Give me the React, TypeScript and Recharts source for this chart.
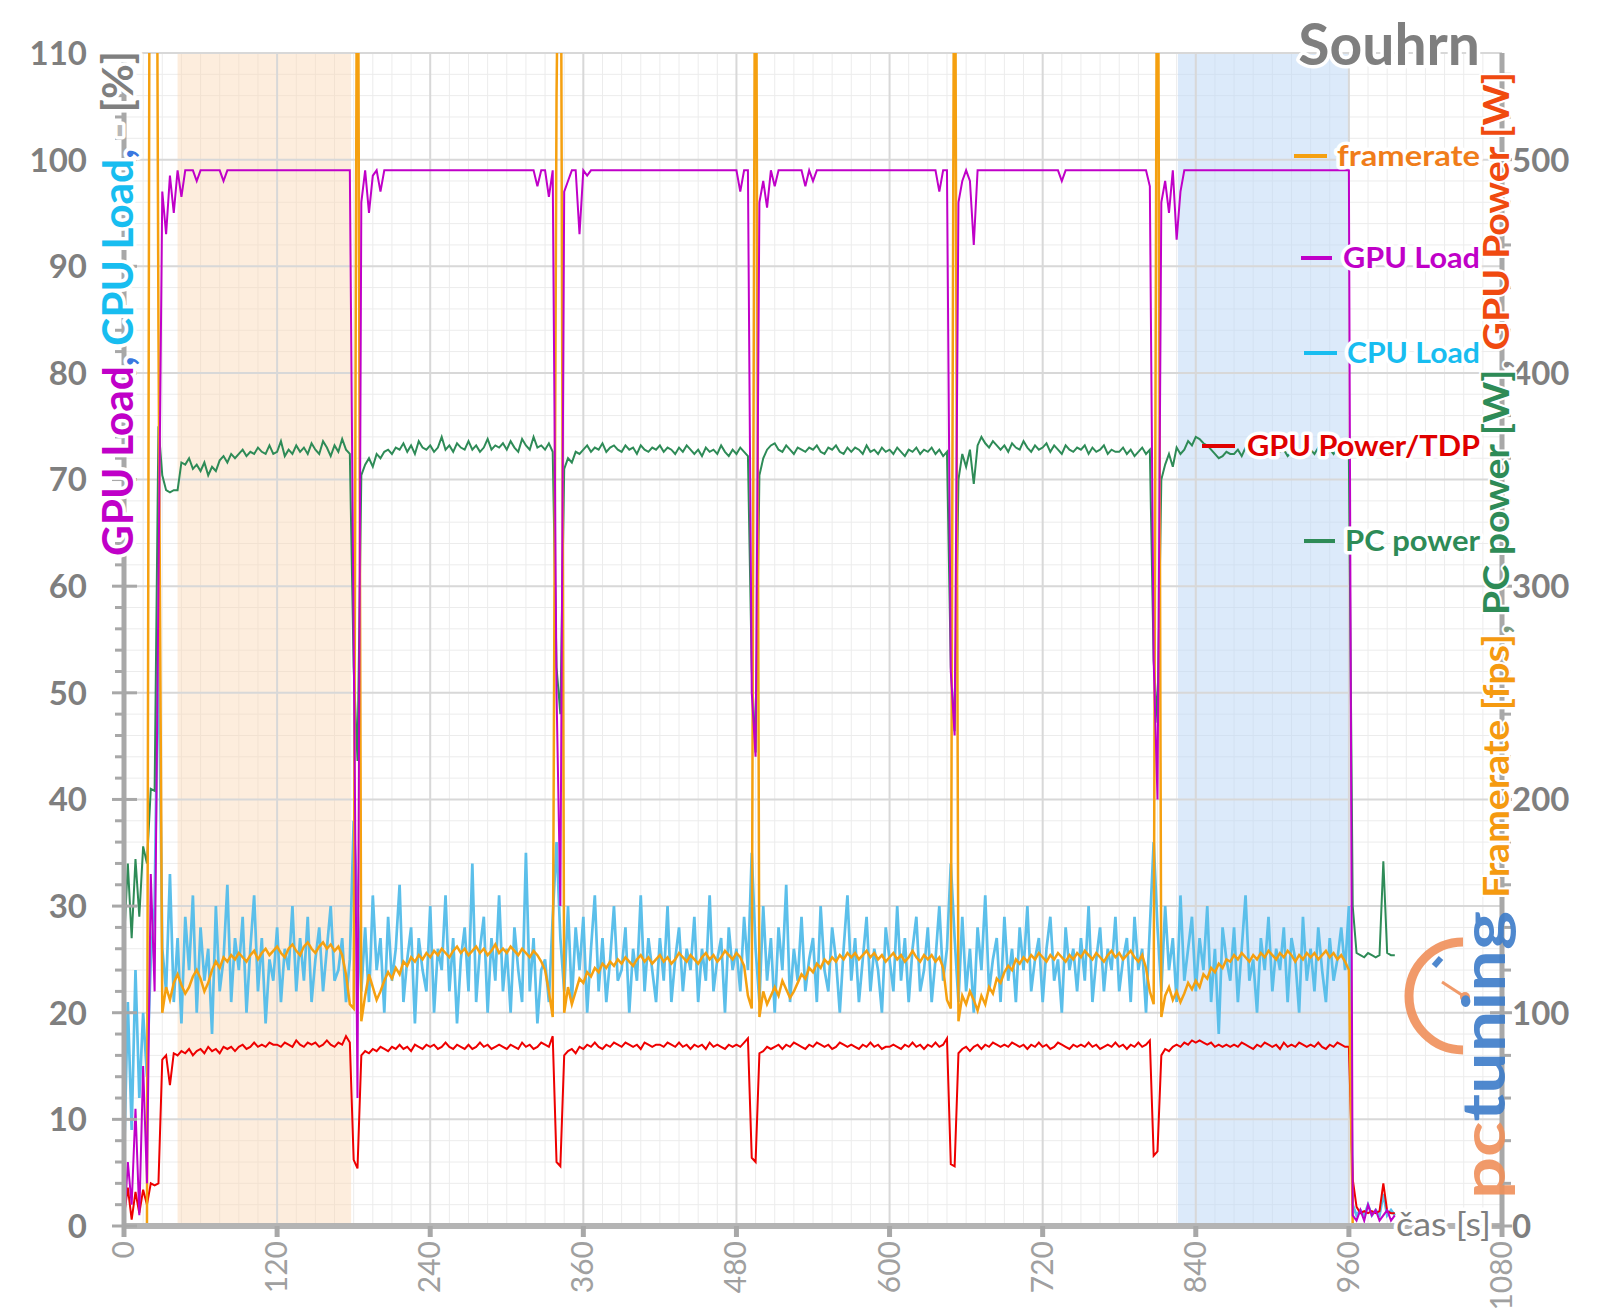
import React from 'react';
import { LineChart, Line, XAxis, YAxis, CartesianGrid, ReferenceArea, ReferenceLine } from 'recharts';

// one sample every 3 seconds, t = 0 … 996 s
const SAMPLE_STEP = 3;

// framerate [fps] – right axis (spikes during loading go off the top)
const FRAMERATE = [
  0, 0, 0, 0, 0, 0, 0, 900, 900, 420,
  100, 112, 106, 114, 118, 113, 109, 112, 117, 120,
  116, 110, 114, 120, 124, 121, 126, 124, 127, 125,
  128, 126, 124, 127, 129, 125, 128, 130, 127, 129,
  131, 128, 126, 130, 132, 129, 127, 131, 133, 130,
  128, 131, 133, 130, 132, 129, 131, 127, 118, 104,
  102, 700, 96, 108, 118, 112, 106, 110, 115, 119,
  116, 121, 118, 124, 122, 126, 124, 127, 125, 128,
  126, 129, 127, 130, 128, 126, 129, 131, 128, 130,
  127, 129, 131, 128, 130, 127, 129, 132, 128, 130,
  128, 131, 129, 127, 130, 128, 126, 129, 127, 124,
  120, 110, 98, 530, 700, 100, 112, 104, 110, 116,
  114, 119, 117, 121, 119, 123, 121, 124, 122, 125,
  123, 126, 124, 122, 125, 127, 124, 126, 123, 125,
  127, 124, 126, 123, 125, 128, 126, 124, 127, 125,
  123, 126, 128, 125, 127, 124, 126, 129, 127, 125,
  128, 126, 122, 108, 102, 700, 98, 110, 104, 108,
  112, 108, 115, 111, 107, 110, 114, 118, 116, 121,
  119, 123, 121, 125, 123, 126, 124, 127, 125, 128,
  126, 128, 125, 127, 129, 126, 128, 125, 127, 124,
  126, 128, 125, 127, 124, 126, 129, 126, 124, 127,
  125, 127, 124, 126, 121, 106, 102, 700, 96, 108,
  104, 110, 106, 101, 108, 104, 112, 109, 116, 114,
  119, 122, 120, 125, 123, 126, 124, 127, 125, 128,
  126, 124, 127, 125, 128, 126, 124, 127, 125, 128,
  126, 129, 127, 125, 128, 126, 124, 127, 129, 126,
  128, 125, 127, 129, 126, 124, 127, 121, 110, 104,
  700, 98, 108, 112, 106, 110, 105, 109, 114, 111,
  115, 112, 118, 116, 121, 119, 123, 121, 125, 124,
  127, 125, 128, 126, 124, 127, 125, 128, 126, 129,
  127, 125, 128, 126, 129, 127, 124, 127, 125, 128,
  126, 128, 125, 127, 129, 126, 128, 125, 127, 124,
  120, 0, 0, 0, 0, 0, 0, 0, 0, 0,
  0, 0, 0,
];

// GPU load [%] – left axis
const GPU_LOAD = [
  0, 6, 2, 11, 1, 15, 4, 33, 22, 60,
  97, 93, 98.5, 95, 99, 96.5, 99, 99, 99, 98,
  99, 99, 99, 99, 99, 99, 98, 99, 99, 99,
  99, 99, 99, 99, 99, 99, 99, 99, 99, 99,
  99, 99, 99, 99, 99, 99, 99, 99, 99, 99,
  99, 99, 99, 99, 99, 99, 99, 99, 99, 99,
  55, 12, 96, 99, 95, 98.5, 99, 97, 99, 99,
  99, 99, 99, 99, 99, 99, 99, 99, 99, 99,
  99, 99, 99, 99, 99, 99, 99, 99, 99, 99,
  99, 99, 99, 99, 99, 99, 99, 99, 99, 99,
  99, 99, 99, 99, 99, 99, 99, 99, 97.5, 99,
  99, 96.5, 99, 50, 30, 97, 98, 99, 99, 93,
  99, 98.5, 99, 99, 99, 99, 99, 99, 99, 99,
  99, 99, 99, 99, 99, 99, 99, 99, 99, 99,
  99, 99, 99, 99, 99, 99, 99, 99, 99, 99,
  99, 99, 99, 99, 99, 99, 99, 99, 99, 99,
  99, 97, 99, 99, 50, 44, 96, 98, 95.5, 99,
  97.5, 99, 99, 99, 99, 99, 99, 99, 97.5, 99,
  98, 99, 99, 99, 99, 99, 99, 99, 99, 99,
  99, 99, 99, 99, 99, 99, 99, 99, 99, 99,
  99, 99, 99, 99, 99, 99, 99, 99, 99, 99,
  99, 99, 99, 97, 99, 99, 52, 46, 96, 98,
  99, 98, 92, 99, 99, 99, 99, 99, 99, 99,
  99, 99, 99, 99, 99, 99, 99, 99, 99, 99,
  99, 99, 99, 99, 99, 98, 99, 99, 99, 99,
  99, 99, 99, 99, 99, 99, 99, 99, 99, 99,
  99, 99, 99, 99, 99, 99, 99, 99, 97.5, 53,
  40, 96, 98, 95, 99, 92.5, 97, 99, 99, 99,
  99, 99, 99, 99, 99, 99, 99, 99, 99, 99,
  99, 99, 99, 99, 99, 99, 99, 99, 99, 99,
  99, 99, 99, 99, 99, 99, 99, 99, 99, 99,
  99, 99, 99, 99, 99, 99, 99, 99, 99, 99,
  99, 1, 0.5, 1.5, 0.5, 2, 1, 1.5, 0.5, 1,
  1.5, 0.5, 1,
];

// CPU load [%] – left axis
const CPU_LOAD = [
  6, 21, 9, 24, 12, 20, 14, 25, 30, 56,
  26, 22, 33, 21, 27, 19, 29, 24, 31, 20,
  28, 23, 26, 18, 30, 22, 25, 32, 21, 27,
  24, 29, 20, 26, 31, 22, 27, 19, 25, 23,
  28, 21, 26, 24, 30, 22, 27, 23, 29, 21,
  25, 28, 22, 26, 30, 23, 24, 27, 21, 25,
  38, 30, 22, 28, 21, 31, 24, 27, 20, 29,
  23, 26, 32, 21, 25, 28, 19, 27, 24, 22,
  30, 20, 26, 24, 31, 22, 27, 19, 25, 28,
  22, 34, 21, 26, 29, 20, 27, 23, 31, 22,
  26, 20, 28, 24, 21, 35, 22, 27, 19, 24,
  25, 21, 29, 36, 27, 22, 30, 21, 28, 24,
  29, 20, 26, 31, 22, 27, 21, 25, 30, 23,
  24, 28, 20, 26, 23, 31, 22, 27, 24, 21,
  27, 23, 30, 21, 25, 28, 22, 26, 24, 29,
  21, 26, 23, 31, 22, 25, 27, 20, 28, 24,
  26, 22, 29, 24, 35, 26, 21, 30, 23, 27,
  20, 28, 24, 32, 21, 26, 23, 29, 22, 25,
  27, 21, 30, 24, 22, 28, 25, 20, 26, 31,
  23, 27, 21, 25, 29, 22, 26, 24, 20, 28,
  25, 22, 30, 23, 27, 21, 26, 29, 22, 24,
  28, 21, 25, 30, 23, 26, 34, 27, 21, 29,
  22, 26, 20, 28, 24, 31, 22, 25, 27, 21,
  29, 23, 26, 21, 28, 24, 30, 22, 25, 27,
  21, 26, 29, 23, 25, 20, 28, 24, 26, 22,
  27, 23, 30, 21, 25, 28, 22, 26, 24, 29,
  22, 25, 27, 21, 29, 24, 26, 20, 28, 36,
  28, 22, 30, 24, 27, 21, 31, 23, 26, 29,
  22, 27, 24, 30, 21, 26, 18, 28, 25, 23,
  28, 21, 26, 31, 23, 25, 20, 27, 24, 29,
  22, 26, 24, 28, 21, 27, 25, 20, 29, 23,
  26, 22, 28, 24, 21, 27, 23, 25, 28, 24,
  30, 2, 1, 1.5, 1, 2, 1, 1.5, 1, 3,
  1, 1.5, 1,
];

// GPU power [W] – right axis
const GPU_POWER = [
  5, 18, 3, 16, 6, 17, 10, 20, 19, 20,
  78, 80, 66, 81, 80, 82, 81, 83, 80, 82,
  83, 81, 84, 82, 83, 81, 84, 83, 84, 82,
  84, 85, 83, 84, 86, 84, 85, 84, 86, 85,
  85, 84, 86, 85, 84, 87, 85, 84, 86, 85,
  86, 84, 85, 87, 85, 84, 86, 85, 89, 86,
  31, 27, 80, 82, 81, 83, 82, 84, 83, 82,
  84, 83, 85, 83, 84, 82, 85, 84, 83, 85,
  84, 85, 83, 84, 86, 84, 83, 85, 84, 83,
  85, 83, 84, 86, 84, 85, 83, 84, 85, 84,
  83, 85, 84, 83, 86, 84, 85, 83, 84, 86,
  85, 84, 89, 30, 28, 80, 82, 83, 81, 84,
  83, 85, 84, 86, 84, 83, 85, 84, 86, 85,
  84, 86, 85, 84, 85, 83, 86, 85, 84, 85,
  85, 84, 86, 85, 84, 86, 84, 85, 83, 85,
  84, 85, 83, 86, 84, 85, 84, 83, 85, 84,
  85, 84, 86, 88, 32, 30, 81, 82, 84, 83,
  84, 85, 83, 85, 84, 86, 85, 84, 83, 85,
  84, 86, 85, 84, 85, 83, 84, 86, 85, 84,
  85, 84, 83, 85, 84, 86, 84, 85, 83, 84,
  84, 85, 84, 83, 85, 84, 86, 84, 85, 83,
  85, 84, 86, 84, 85, 88, 29, 28, 81, 83,
  84, 82, 84, 85, 83, 85, 84, 86, 85, 84,
  85, 84, 86, 85, 84, 85, 83, 85, 84, 86,
  84, 85, 83, 84, 86, 85, 84, 83, 85, 84,
  85, 84, 86, 84, 85, 83, 84, 85, 84, 86,
  84, 85, 83, 85, 84, 86, 84, 85, 87, 33,
  35, 80, 83, 82, 84, 85, 84, 86, 85, 87,
  86, 87, 86, 85, 86, 84, 85, 84, 85, 84,
  85, 84, 86, 85, 84, 83, 85, 84, 86, 85,
  84, 85, 83, 86, 84, 85, 84, 86, 85, 84,
  85, 84, 86, 84, 83, 85, 84, 86, 85, 84,
  84, 22, 9, 6, 7, 6, 7, 6, 7, 20,
  7, 6, 6,
];

// PC power [W] – right axis
const PC_POWER = [
  133, 170, 135, 172, 145, 178, 170, 205, 204, 375,
  352, 345, 344, 345, 345, 358, 357, 360, 355, 357,
  354, 358, 352, 356, 354, 359, 361, 358, 362, 360,
  362, 364, 361, 363, 362, 365, 363, 362, 366, 362,
  363, 368, 361, 364, 362, 366, 363, 365, 362, 367,
  364, 362, 368, 365, 361, 366, 363, 369, 364, 362,
  262, 218, 352, 357, 360, 356, 362, 360, 363, 364,
  362, 365, 364, 367, 363, 366, 362, 368, 365, 364,
  366, 363, 365, 370, 364, 366, 363, 367, 365, 364,
  368, 364, 366, 363, 365, 369, 364, 366, 365, 367,
  364, 368, 365, 363, 369, 366, 364, 370, 365, 366,
  364, 367, 363, 262, 240, 355, 360, 358, 363, 362,
  364, 366, 363, 365, 364, 367, 363, 365, 366, 364,
  363, 366, 364, 365, 362, 366, 364, 363, 365, 364,
  366, 363, 365, 364, 362, 365, 363, 366, 364, 362,
  364, 361, 365, 363, 364, 362, 366, 363, 361, 364,
  362, 365, 363, 361, 261, 222, 352, 360, 364, 366,
  367, 364, 363, 366, 364, 362, 365, 364, 363, 365,
  364, 366, 363, 362, 365, 364, 366, 363, 362, 365,
  363, 365, 364, 362, 366, 363, 364, 362, 365, 363,
  364, 362, 365, 363, 361, 364, 363, 365, 362, 364,
  363, 365, 362, 364, 361, 363, 262, 232, 350, 362,
  356, 364, 348, 366, 370, 367, 365, 368, 366, 364,
  366, 363, 367, 365, 364, 368, 365, 363, 366, 364,
  365, 367, 363, 366, 364, 362, 366, 364, 363, 365,
  364, 366, 362, 365, 363, 364, 366, 362, 364, 363,
  363, 365, 362, 364, 361, 363, 365, 362, 364, 265,
  236, 350, 357, 362, 356, 365, 362, 364, 368, 366,
  370, 369, 367, 366, 364, 362, 360, 361, 363, 362,
  362, 364, 361, 365, 363, 362, 364, 363, 361, 364,
  362, 365, 363, 364, 361, 363, 365, 362, 364, 363,
  364, 362, 365, 363, 361, 364, 362, 365, 363, 364,
  360, 150, 128, 127, 126, 128, 127, 126, 127, 171,
  128, 127, 127,
];

const X_MAJOR = [0, 120, 240, 360, 480, 600, 720, 840, 960, 1080];
const LEFT_MAJOR = [0, 10, 20, 30, 40, 50, 60, 70, 80, 90, 100, 110];
const LOADING_BAND = [42, 178];
const SAVE_BAND = [826, 960];

const rows = FRAMERATE.map((fps, i) => ({
  t: i * SAMPLE_STEP,
  fps,
  gpuLoad: GPU_LOAD[i],
  cpuLoad: CPU_LOAD[i],
  gpuPower: GPU_POWER[i],
  pcPower: PC_POWER[i],
}));

const xTicks: number[] = [];
for (let t = 0; t <= 1080; t += 15) xTicks.push(t);
const leftTicks: number[] = [];
for (let v = 0; v <= 110; v += 2) leftTicks.push(v);
const rightTicks: number[] = [];
for (let v = 0; v <= 540; v += 20) rightTicks.push(v);

const FONT = 'Lato, "Open Sans", sans-serif';
const AXIS_GRAY = '#a8a8a8';
const LABEL_GRAY = '#7f7f7f';

const LeftTick = (props: any) => {
  const { x, y, payload } = props;
  const v = payload.value;
  const major = v % 10 === 0;
  return (
    <g>
      <line x1={major ? x - 12 : x - 9} x2={major ? x + 13 : x} y1={y} y2={y} stroke={AXIS_GRAY} strokeWidth={3} />
      {major && (
        <text x={x - 37} y={y} dy="0.36em" textAnchor="end" fontFamily={FONT} fontWeight={700} fontSize={33} fill={LABEL_GRAY}>
          {v}
        </text>
      )}
    </g>
  );
};

const RightTick = (props: any) => {
  const { x, y, payload } = props;
  const v = payload.value;
  const major = v % 100 === 0;
  return (
    <g>
      <line x1={major ? x - 12 : x} x2={major ? x + 10 : x + 9} y1={y} y2={y} stroke={AXIS_GRAY} strokeWidth={3} />
      {major && (
        <text x={x + 10} y={y} dy="0.36em" textAnchor="start" fontFamily={FONT} fontWeight={700} fontSize={33} fill={LABEL_GRAY}>
          {v}
        </text>
      )}
    </g>
  );
};

const BottomTick = (props: any) => {
  const { x, y, payload } = props;
  const v = payload.value;
  if (v % 120 !== 0) return <g />;
  const tx = x + 10;
  const ty = y + 15;
  return (
    <g>
      <line x1={x} x2={x} y1={y} y2={y + 11} stroke={AXIS_GRAY} strokeWidth={5} />
      <text x={tx} y={ty} transform={`rotate(-90 ${tx} ${ty})`} textAnchor="end" fontFamily={FONT} fontSize={30} fill="#a0a0a0">
        {v}
      </text>
    </g>
  );
};

const LEGEND = [
  { label: 'framerate', color: '#f07d1a', line: '#f5a010', y: 156, dash: [1294, 1327], x0: 1337 },
  { label: 'GPU Load', color: '#c000c8', line: '#c000c8', y: 258, dash: [1301, 1332], x0: 1343 },
  { label: 'CPU Load', color: '#18bdf0', line: '#18bdf0', y: 353, dash: [1304, 1337], x0: 1347 },
  { label: 'GPU Power/TDP', color: '#e00000', line: '#e00000', y: 446, dash: [1202, 1235], x0: 1247 },
  { label: 'PC power', color: '#2e8b57', line: '#2e8b57', y: 541, dash: [1304, 1335], x0: 1345 },
];

const halo = { stroke: '#ffffff', strokeWidth: 7, paintOrder: 'stroke' as const, strokeLinejoin: 'round' as const };
const thinHalo = { stroke: '#ffffff', strokeWidth: 4, paintOrder: 'stroke' as const, strokeLinejoin: 'round' as const };

const Overlay = () => (
  <svg width={1600} height={1313} style={{ position: 'absolute', left: 0, top: 0, pointerEvents: 'none' }} fontFamily={FONT}>
    <text x={1480} y={65} textAnchor="end" fontSize={57} fontWeight={700} fill={LABEL_GRAY} {...halo}>
      Souhrn
    </text>

    {LEGEND.map((l) => (
      <g key={l.label}>
        <line x1={l.dash[0]} x2={l.dash[1]} y1={l.y} y2={l.y} stroke={l.line} strokeWidth={4} />
        <text x={l.x0} y={l.y} dy="0.35em" textLength={1480 - l.x0} lengthAdjust="spacingAndGlyphs" fontSize={29} fontWeight={700} fill={l.color} {...halo}>
          {l.label}
        </text>
      </g>
    ))}

    {/* left axis title */}
    <text x={133} y={556} transform="rotate(-90 133 556)" textLength={505} lengthAdjust="spacingAndGlyphs" fontSize={42} fontWeight={700} {...halo}>
      <tspan fill="#c000c8">GPU Load</tspan>
      <tspan fill="#3a78e0">, </tspan>
      <tspan fill="#18bdf0">CPU Load</tspan>
      <tspan fill="#3a78e0">, </tspan>
      <tspan fill="#b8b8b8">- </tspan>
      <tspan fill={LABEL_GRAY}>[%]</tspan>
    </text>

    {/* right axis title */}
    <text x={1509} y={898} transform="rotate(-90 1509 898)" textLength={826} lengthAdjust="spacingAndGlyphs" fontSize={37} fontWeight={700} {...thinHalo}>
      <tspan fill="#f59a10">Framerate [fps]</tspan>
      <tspan fill="#7a9a80">, </tspan>
      <tspan fill="#2e8b57">PC power [W]</tspan>
      <tspan fill="#8a8a8a">, </tspan>
      <tspan fill="#f04a10">GPU Power [W]</tspan>
    </text>

    {/* pctuning watermark */}
    <g opacity={0.9}>
      <path d="M 1463 942 A 54 54 0 0 0 1463 1050" fill="none" stroke="#f0905a" strokeWidth={9} />
      <line x1={1465} y1={997} x2={1442} y2={982} stroke="#f0905a" strokeWidth={3} />
      <circle cx={1465} cy={997} r={5} fill="#f0905a" />
      <line x1={1434} y1={966} x2={1441} y2={958} stroke="#3d7cc9" strokeWidth={6} />
      <text x={1505} y={1199} transform="rotate(-90 1505 1199)" textLength={288} lengthAdjust="spacingAndGlyphs" fontSize={60} fontWeight={700}>
        <tspan fill="#f0905a">pc</tspan>
        <tspan fill="#3d7cc9">tuning</tspan>
      </text>
    </g>

    <text x={1396} y={1236} textLength={95} lengthAdjust="spacingAndGlyphs" fontSize={33} fill={LABEL_GRAY} {...halo}>
      čas [s]
    </text>
  </svg>
);

export default function App() {
  return (
    <div style={{ position: 'absolute', left: 0, top: 0, width: 1600, height: 1313, background: '#ffffff' }}>
      <LineChart width={1600} height={1313} data={rows} margin={{ top: 53, right: 0, bottom: 0, left: 0 }}>
        <CartesianGrid yAxisId="left" stroke="#ececec" strokeWidth={1} />
        <ReferenceArea yAxisId="left" x1={LOADING_BAND[0]} x2={LOADING_BAND[1]} fill="#fad8b4" fillOpacity={0.45} stroke="none" />
        <ReferenceArea yAxisId="left" x1={SAVE_BAND[0]} x2={SAVE_BAND[1]} fill="#b9d6f6" fillOpacity={0.5} stroke="none" />
        {LEFT_MAJOR.map((v) => (
          <ReferenceLine key={`h${v}`} yAxisId="left" y={v} stroke="#d8d8d8" strokeWidth={2} />
        ))}
        {X_MAJOR.map((v) => (
          <ReferenceLine key={`v${v}`} yAxisId="left" x={v} stroke="#d8d8d8" strokeWidth={2} />
        ))}
        <XAxis
          dataKey="t"
          type="number"
          domain={[0, 1080]}
          ticks={xTicks}
          interval={0}
          height={87}
          tickSize={0}
          tickMargin={0}
          tickLine={false}
          axisLine={{ stroke: '#b4b4b4', strokeWidth: 6 }}
          tick={<BottomTick />}
        />
        <YAxis
          yAxisId="left"
          domain={[0, 110]}
          ticks={leftTicks}
          interval={0}
          width={124}
          tickSize={0}
          tickMargin={0}
          tickLine={false}
          axisLine={{ stroke: AXIS_GRAY, strokeWidth: 5 }}
          tick={<LeftTick />}
        />
        <YAxis
          yAxisId="right"
          orientation="right"
          domain={[0, 550]}
          allowDataOverflow
          ticks={rightTicks}
          interval={0}
          width={98}
          tickSize={0}
          tickMargin={0}
          tickLine={false}
          axisLine={{ stroke: AXIS_GRAY, strokeWidth: 5 }}
          tick={<RightTick />}
        />
        <Line yAxisId="left" dataKey="cpuLoad" stroke="#5bbfea" strokeWidth={2.7} dot={false} isAnimationActive={false} />
        <Line yAxisId="right" dataKey="pcPower" stroke="#2e8b57" strokeWidth={2} dot={false} isAnimationActive={false} />
        <Line yAxisId="right" dataKey="gpuPower" stroke="#ee0000" strokeWidth={2} dot={false} isAnimationActive={false} />
        <Line yAxisId="right" dataKey="fps" stroke="#f5a010" strokeWidth={2.5} dot={false} isAnimationActive={false} />
        <Line yAxisId="left" dataKey="gpuLoad" stroke="#c000c8" strokeWidth={2} dot={false} isAnimationActive={false} />
      </LineChart>
      <Overlay />
    </div>
  );
}
